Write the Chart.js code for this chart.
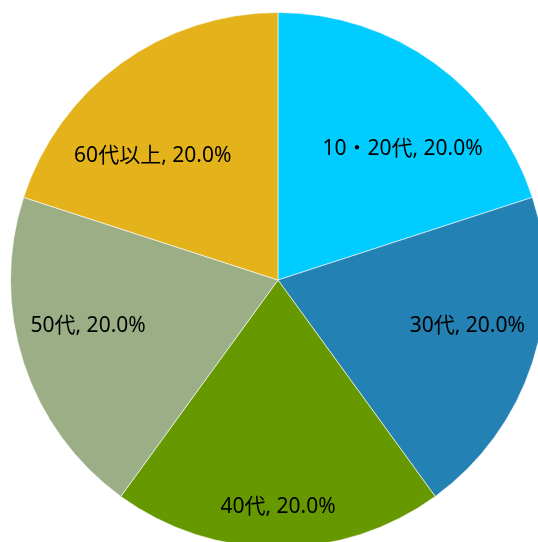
<!DOCTYPE html>
<html>
<head>
<meta charset="utf-8">
<script src="https://cdn.jsdelivr.net/npm/chart.js@4"></script>
<style>
    html, body { margin: 0; padding: 0; background: #fff; overflow: hidden; }
    #wrap { position: absolute; left: 10px; top: 12px; }
</style>
</head>
<body>
<div id="wrap"><canvas id="pieChart" width="536" height="536"></canvas></div>
<script>
const categories = ['10・20代', '30代', '40代', '50代', '60代以上'];
const shares = [20.0, 20.0, 20.0, 20.0, 20.0];
const sliceColors = ['#00ccff', '#2481b4', '#669900', '#9bae86', '#e4b21b'];

// Excel "best fit" label spots: [angle shift in degrees, fraction of radius]
const labelPlacement = [[7.6, 0.675], [-4.4, 0.728], [0, 0.85], [4.5, 0.73], [-9.2, 0.66]];

const pieLabels = {
    id: 'pieLabels',
    afterDatasetsDraw(chart) {
        const ctx = chart.ctx;
        const meta = chart.getDatasetMeta(0);
        ctx.save();
        ctx.font = '21px "Noto Sans", "Noto Sans CJK JP", sans-serif';
        ctx.fillStyle = '#000';
        ctx.textAlign = 'center';
        ctx.textBaseline = 'middle';
        meta.data.forEach((arc, i) => {
            const p = arc.getProps(['x', 'y', 'startAngle', 'endAngle', 'outerRadius'], true);
            const mid = (p.startAngle + p.endAngle) / 2 + labelPlacement[i][0] * Math.PI / 180;
            const r = p.outerRadius * labelPlacement[i][1];
            const text = `${categories[i]}, ${shares[i].toFixed(1)}%`;
            ctx.fillText(text, p.x + Math.cos(mid) * r, p.y + Math.sin(mid) * r);
        });
        ctx.restore();
    }
};

new Chart(document.getElementById('pieChart'), {
    type: 'pie',
    data: {
        labels: categories,
        datasets: [{
            data: shares,
            backgroundColor: sliceColors,
            borderColor: 'rgba(255,255,255,0.6)',
            borderWidth: 1
        }]
    },
    options: {
        responsive: false,
        animation: false,
        devicePixelRatio: 1,
        layout: { padding: 0 },
        plugins: {
            legend: { display: false },
            tooltip: { enabled: false }
        }
    },
    plugins: [pieLabels]
});
</script>
</body>
</html>
